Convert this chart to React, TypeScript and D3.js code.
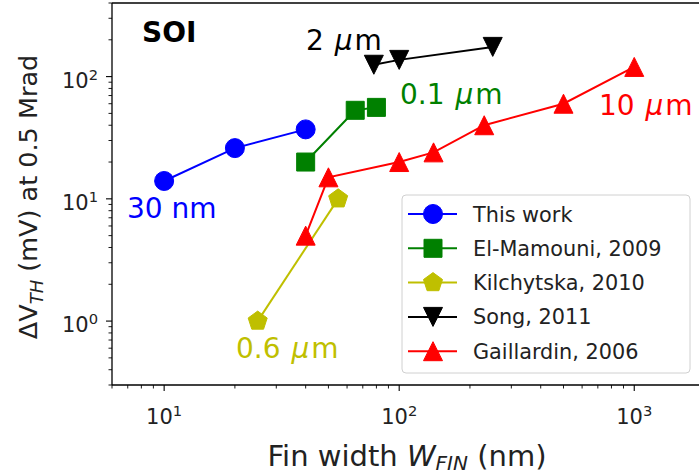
import React from "react";
import * as d3 from "d3";

const W = 699;
const H = 476;

// Series: fin width (nm) vs threshold-voltage shift (mV)
const thisWorkX = [10, 20, 40];
const thisWorkY = [14, 26, 37];
const elMamouniX = [40, 65, 80];
const elMamouniY = [20, 53, 56];
const kilchytskaX = [25, 55];
const kilchytskaY = [1, 10];
const songX = [78, 100, 250];
const songY = [125, 137, 175];
const gaillardinX = [40, 50, 100, 140, 230, 500, 1000];
const gaillardinY = [5, 15, 20, 24, 40, 60, 120];

const seriesNames = ["This work", "El-Mamouni, 2009", "Kilchytska, 2010", "Song, 2011", "Gaillardin, 2006"];
const xMajorTicks = [10, 100, 1000];
const yMajorTicks = [1, 10, 100];
const tickExponentsX = ["1", "2", "3"];
const tickExponentsY = ["0", "1", "2"];

const FONT = "DejaVu Sans, sans-serif";

type Shape = "circle" | "square" | "pentagon" | "tri_down" | "tri_up";

function markerPath(shape: Shape): string {
  const p = d3.path();
  if (shape === "circle") {
    p.arc(0, 0, 9.5, 0, Math.PI * 2);
  } else if (shape === "square") {
    p.rect(-9, -9, 18, 18);
  } else if (shape === "pentagon") {
    const r = 10;
    for (let i = 0; i < 5; i++) {
      const a = -Math.PI / 2 + (i * 2 * Math.PI) / 5;
      if (i === 0) p.moveTo(r * Math.cos(a), r * Math.sin(a));
      else p.lineTo(r * Math.cos(a), r * Math.sin(a));
    }
  } else if (shape === "tri_up") {
    p.moveTo(0, -9.5);
    p.lineTo(-9.5, 9.5);
    p.lineTo(9.5, 9.5);
  } else {
    p.moveTo(0, 9.5);
    p.lineTo(-9.5, -9.5);
    p.lineTo(9.5, -9.5);
  }
  p.closePath();
  return p.toString();
}

export default function App() {
  const left = 112;
  const right = 705;
  const top = 3;
  const bottom = 385;

  const x = d3.scaleLog().domain([6, 2000]).range([left, right]);
  const y = d3.scaleLog().domain([0.3, 400]).range([bottom, top]);

  const series = [
    { name: seriesNames[0], xs: thisWorkX, ys: thisWorkY, color: "#0000ff", shape: "circle" as Shape },
    { name: seriesNames[1], xs: elMamouniX, ys: elMamouniY, color: "#008000", shape: "square" as Shape },
    { name: seriesNames[2], xs: kilchytskaX, ys: kilchytskaY, color: "#bfbf00", shape: "pentagon" as Shape },
    { name: seriesNames[3], xs: songX, ys: songY, color: "#000000", shape: "tri_down" as Shape },
    { name: seriesNames[4], xs: gaillardinX, ys: gaillardinY, color: "#ff0000", shape: "tri_up" as Shape },
  ];

  const line = d3
    .line<[number, number]>()
    .x((d) => x(d[0]))
    .y((d) => y(d[1]));

  const xMinor: number[] = [];
  [1, 10, 100, 1000].forEach((dec) => {
    for (let k = 2; k <= 9; k++) {
      const v = dec * k;
      if (v >= 6 && v <= 2000 && !xMajorTicks.includes(v)) xMinor.push(v);
    }
  });
  const yMinor: number[] = [];
  [0.1, 1, 10, 100].forEach((dec) => {
    for (let k = 2; k <= 9; k++) {
      const v = +(dec * k).toFixed(3);
      if (v >= 0.3 && v <= 400 && !yMajorTicks.includes(v)) yMinor.push(v);
    }
  });

  const legendX = 402;
  const legendY = 195;
  const legendRowY = (i: number) => 214 + i * 34.3;

  return (
    <svg
      width={W}
      height={H}
      style={{ position: "absolute", left: 0, top: 0, background: "#fff" }}
      fontFamily={FONT}
    >
      <rect width={W} height={H} fill="#fff" />

      {/* data lines and markers */}
      <g>
        {series.map((s) => {
          const pts = s.xs.map((v, i) => [v, s.ys[i]] as [number, number]);
          return (
            <g key={s.name}>
              <path d={line(pts) || ""} fill="none" stroke={s.color} strokeWidth={2} />
              {pts.map((p, i) => (
                <path
                  key={i}
                  d={markerPath(s.shape)}
                  transform={`translate(${x(p[0])},${y(p[1])})`}
                  fill={s.color}
                  stroke={s.color}
                  strokeWidth={1}
                />
              ))}
            </g>
          );
        })}
      </g>

      {/* spines */}
      <line x1={left} x2={left} y1={top} y2={bottom} stroke="#000" strokeWidth={1.3} />
      <line x1={left} x2={right} y1={bottom} y2={bottom} stroke="#000" strokeWidth={1.3} />
      <line x1={left} x2={right} y1={top} y2={top} stroke="#000" strokeWidth={1.3} />
      <line x1={right} x2={right} y1={top} y2={bottom} stroke="#000" strokeWidth={1.3} />

      {/* x ticks */}
      {xMajorTicks.map((t, i) => (
        <g key={"xm" + t}>
          <line x1={x(t)} x2={x(t)} y1={bottom} y2={bottom + 6} stroke="#000" strokeWidth={1.1} />
          <text x={x(t)} y={424} fontSize={21} textAnchor="middle" fill="#222">
            10
            <tspan fontSize={14.7} dy={-8}>
              {tickExponentsX[i]}
            </tspan>
          </text>
        </g>
      ))}
      {xMinor.map((t) => (
        <line key={"xn" + t} x1={x(t)} x2={x(t)} y1={bottom} y2={bottom + 3.5} stroke="#000" strokeWidth={0.9} />
      ))}

      {/* y ticks */}
      {yMajorTicks.map((t, i) => (
        <g key={"ym" + t}>
          <line x1={left - 6} x2={left} y1={y(t)} y2={y(t)} stroke="#000" strokeWidth={1.1} />
          <text x={98} y={y(t) + 11} fontSize={21} textAnchor="end" fill="#222">
            10
            <tspan fontSize={14.7} dy={-8}>
              {tickExponentsY[i]}
            </tspan>
          </text>
        </g>
      ))}
      {yMinor.map((t) => (
        <line key={"yn" + t} x1={left - 3.5} x2={left} y1={y(t)} y2={y(t)} stroke="#000" strokeWidth={0.9} />
      ))}

      {/* axis labels */}
      <text x={407} y={465.5} fontSize={29} textAnchor="middle" fill="#222">
        Fin width{" "}
        <tspan fontStyle="italic">W</tspan>
        <tspan fontStyle="italic" fontSize={20} dy={4.5}>
          FIN
        </tspan>
        <tspan dy={-4.5}> (nm)</tspan>
      </text>
      <text
        transform={`translate(37,197) rotate(-90)`}
        fontSize={25.5}
        textAnchor="middle"
        fill="#222"
      >
        ΔV
        <tspan fontStyle="italic" fontSize={18} dy={6}>
          TH
        </tspan>
        <tspan dy={-6}> (mV) at 0.5 Mrad</tspan>
      </text>

      {/* annotations */}
      <text x={142} y={42} fontSize={28} fontWeight="bold" fill="#000">
        SOI
      </text>
      <text x={306} y={50} fontSize={28} fill="#000">
        2 <tspan fontStyle="italic" dx={2}>μ</tspan><tspan dx={2}>m</tspan>
      </text>
      <text x={400} y={104} fontSize={28} fill="#008000">
        0.1 <tspan fontStyle="italic" dx={2}>μ</tspan><tspan dx={2}>m</tspan>
      </text>
      <text x={599} y={115} fontSize={28} fill="#ff0000">
        10 <tspan fontStyle="italic" dx={2}>μ</tspan><tspan dx={2}>m</tspan>
      </text>
      <text x={127} y={218} fontSize={28} fill="#0000ff">
        30 nm
      </text>
      <text x={236} y={358} fontSize={28} fill="#bfbf00">
        0.6 <tspan fontStyle="italic" dx={2}>μ</tspan><tspan dx={2}>m</tspan>
      </text>

      {/* legend */}
      <rect
        x={legendX}
        y={legendY}
        width={288}
        height={178}
        rx={4}
        fill="#fff"
        fillOpacity={0.8}
        stroke="#d0d0d0"
        strokeWidth={1}
      />
      {series.map((s, i) => (
        <g key={"lg" + s.name}>
          <line x1={408} x2={457} y1={legendRowY(i)} y2={legendRowY(i)} stroke={s.color} strokeWidth={2} />
          <path
            d={markerPath(s.shape)}
            transform={`translate(433,${legendRowY(i)})`}
            fill={s.color}
            stroke={s.color}
            strokeWidth={1}
          />
          <text x={473} y={legendRowY(i) + 7.5} fontSize={20.8} fill="#222">
            {s.name}
          </text>
        </g>
      ))}
    </svg>
  );
}
